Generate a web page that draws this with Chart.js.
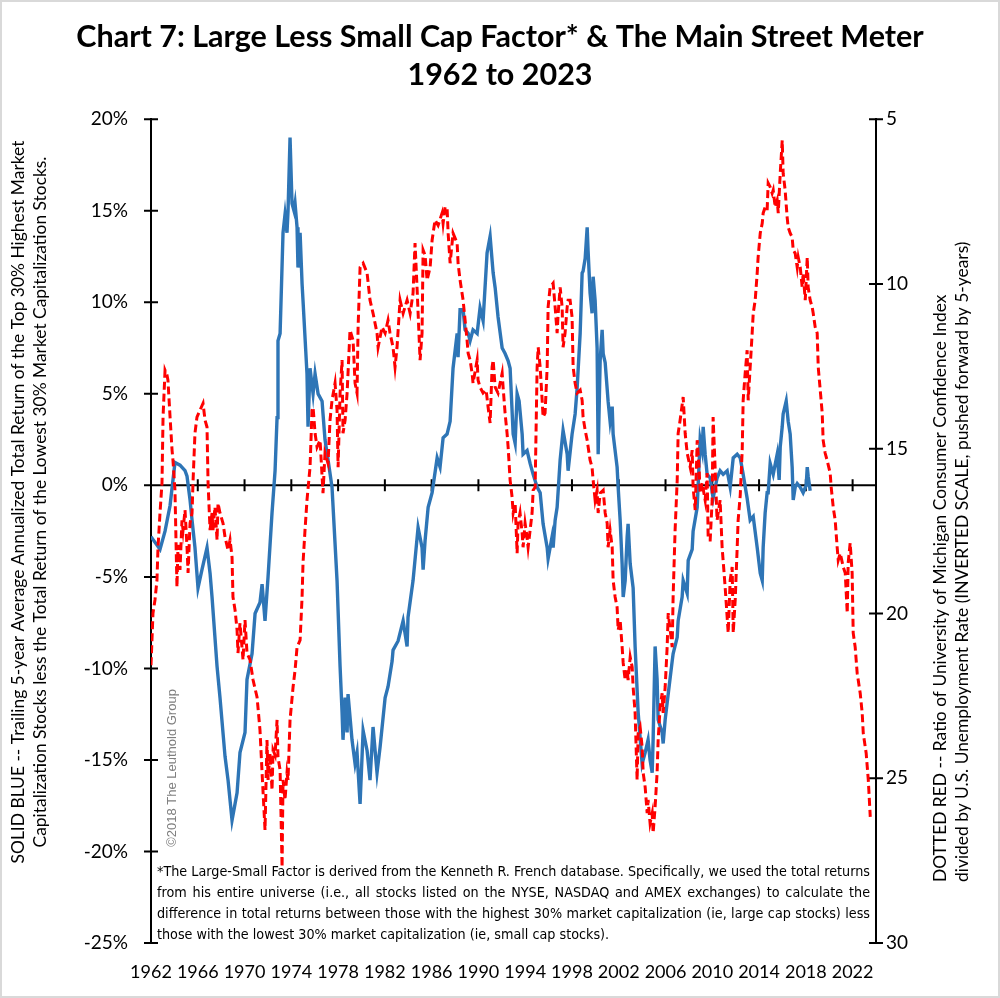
<!DOCTYPE html>
<html>
<head>
<meta charset="utf-8">
<title>Chart 7: Large Less Small Cap Factor & The Main Street Meter</title>
<script src="https://cdn.jsdelivr.net/npm/chart.js@4.4.1/dist/chart.umd.min.js"></script>
<style>
    html, body { margin: 0; padding: 0; background: #fff; }
    canvas { display: block; }
</style>
</head>
<body>
<canvas id="myChart" width="1000" height="998"></canvas>
<script>
// large less small cap factor, % (left axis)
let blueYears = [
    1962.00, 1962.77, 1963.20, 1963.63, 1964.05, 1964.48, 1964.91, 1965.08, 1965.34, 1965.51,
    1965.76, 1966.02, 1966.36, 1966.79, 1967.05, 1967.22, 1967.65, 1967.90, 1968.33, 1968.59,
    1968.93, 1969.36, 1969.61, 1970.04, 1970.21, 1970.64, 1970.90, 1971.32, 1971.50, 1971.75,
    1972.01, 1972.35, 1972.61, 1972.78, 1972.86, 1973.04, 1973.29, 1973.46, 1973.63, 1973.72,
    1973.89, 1974.06, 1974.23, 1974.32, 1974.49, 1974.57, 1974.75, 1974.92, 1975.00, 1975.34,
    1975.43, 1975.60, 1975.86, 1976.03, 1976.29, 1976.63, 1976.71, 1976.88, 1977.14, 1977.48,
    1977.91, 1978.17, 1978.34, 1978.42, 1978.60, 1978.77, 1978.85, 1979.19, 1979.45, 1979.62,
    1979.88, 1980.14, 1980.48, 1980.73, 1980.99, 1981.33, 1981.59, 1982.02, 1982.27, 1982.62,
    1982.70, 1983.13, 1983.56, 1983.90, 1983.98, 1984.41, 1984.84, 1985.18, 1985.27, 1985.44,
    1985.70, 1986.04, 1986.47, 1986.72, 1986.98, 1987.32, 1987.58, 1987.83, 1988.18, 1988.26,
    1988.43, 1988.69, 1988.86, 1989.12, 1989.29, 1989.54, 1989.89, 1990.14, 1990.40, 1990.74,
    1991.00, 1991.26, 1991.43, 1991.68, 1992.03, 1992.28, 1992.54, 1992.71, 1992.97, 1993.14,
    1993.31, 1993.48, 1993.74, 1993.82, 1994.16, 1994.42, 1994.68, 1995.02, 1995.28, 1995.53,
    1995.88, 1995.96, 1996.30, 1996.39, 1996.56, 1996.73, 1996.99, 1997.24, 1997.59, 1997.67,
    1998.01, 1998.27, 1998.44, 1998.70, 1998.87, 1998.95, 1999.13, 1999.30, 1999.38, 1999.55,
    1999.72, 1999.81, 1999.98, 2000.15, 2000.24, 2000.41, 2000.58, 2000.67, 2000.84, 2001.09,
    2001.26, 2001.44, 2001.52, 2001.86, 2001.95, 2002.12, 2002.29, 2002.38, 2002.55, 2002.72,
    2002.80, 2002.98, 2003.23, 2003.40, 2003.66, 2004.00, 2004.26, 2004.51, 2004.68, 2004.86,
    2004.94, 2005.11, 2005.28, 2005.37, 2005.71, 2005.80, 2005.97, 2006.23, 2006.57, 2006.65,
    2007.00, 2007.08, 2007.42, 2007.51, 2007.85, 2007.94, 2008.28, 2008.36, 2008.71, 2008.96,
    2009.13, 2009.22, 2009.39, 2009.56, 2009.82, 2010.07, 2010.41, 2010.67, 2010.93, 2011.27,
    2011.53, 2011.79, 2012.13, 2012.39, 2012.64, 2012.98, 2013.24, 2013.50, 2013.84, 2014.10,
    2014.27, 2014.35, 2014.52, 2014.69, 2014.78, 2014.95, 2015.21, 2015.55, 2015.72, 2015.81,
    2015.98, 2016.06, 2016.32, 2016.49, 2016.66, 2016.83, 2016.92, 2017.09, 2017.26, 2017.52,
    2017.77, 2018.03, 2018.12, 2018.20, 2018.37
]
let blueValues = [
    -2.8, -3.5, -2.5, -1.1, 1.25, 1.1, 0.8, 0.5, -0.8, -1.9,
    -3.4, -5.6, -4.6, -3.4, -4.8, -6.1, -9.9, -11.6, -14.8, -16.1,
    -18.3, -16.8, -14.6, -13.5, -10.6, -9.2, -7.0, -6.4, -5.4, -7.4,
    -5.0, -1.5, 0.8, 3.7, 7.9, 8.3, 13.8, 14.8, 13.8, 15.0,
    19.0, 15.4, 15.0, 15.4, 14.1, 11.9, 13.8, 11.0, 10.1, 6.1,
    3.2, 6.4, 5.0, 6.1, 5.0, 4.6, 3.9, 2.5, 1.4, -0.1,
    -5.2, -9.9, -12.4, -13.9, -11.6, -13.5, -11.4, -13.9, -15.2, -14.6,
    -17.4, -13.4, -14.5, -16.1, -13.2, -15.7, -14.3, -11.6, -11.0, -9.6,
    -9.0, -8.5, -7.4, -8.8, -7.2, -5.2, -2.3, -3.4, -4.6, -3.0,
    -1.2, -0.4, 1.5, 1.0, 2.6, 2.8, 3.5, 6.4, 8.3, 7.0,
    9.6, 9.6, 8.5, 8.3, 7.9, 8.5, 8.3, 9.7, 9.0, 12.7,
    13.6, 11.6, 10.8, 9.2, 7.5, 7.2, 6.8, 6.4, 2.8, 2.3,
    5.0, 4.6, 2.8, 1.7, 1.9, 1.2, 0.6, -0.1, -0.4, -2.1,
    -3.4, -4.0, -2.8, -3.4, -1.9, -1.2, 1.4, 3.0, 1.7, 0.8,
    2.8, 3.9, 5.3, 8.3, 11.6, 11.7, 12.4, 14.1, 12.8, 10.5,
    9.4, 11.4, 10.1, 7.5, 1.7, 6.8, 8.5, 7.2, 6.7, 4.6,
    3.5, 4.3, 2.8, 1.0, -0.1, -1.9, -4.3, -6.1, -5.2, -2.8,
    -2.1, -4.3, -5.6, -8.8, -12.4, -15.2, -14.6, -13.9, -15.0, -15.7,
    -13.9, -8.8, -10.6, -12.8, -13.5, -14.1, -12.8, -11.4, -9.6, -9.2,
    -8.3, -7.4, -6.1, -5.2, -5.9, -4.1, -3.5, -2.5, -1.2, 2.5,
    1.9, 3.2, 1.7, 0.6, 0.4, -0.7, 0.4, 0.8, 0.6, 0.8,
    -0.1, 1.5, 1.7, 1.5, 0.6, -0.7, -1.9, -1.7, -3.4, -4.8,
    -5.2, -3.4, -1.5, -0.4, -0.4, 1.2, 0.6, 1.7, 0.3, 2.1,
    3.2, 3.9, 4.6, 3.5, 2.8, 1.0, -0.8, -0.1, 0.1, -0.1,
    -0.4, 0.0, 1.0, 0.5, -0.3
]

// main street meter, pushed forward 5 years (right axis, inverted)
let redYears = [
    1962.00, 1962.17, 1962.34, 1962.51, 1962.60, 1962.77, 1962.94, 1963.03, 1963.20, 1963.37,
    1963.45, 1963.63, 1963.80, 1963.88, 1964.05, 1964.22, 1964.31, 1964.48, 1964.65, 1964.74,
    1964.91, 1965.08, 1965.17, 1965.34, 1965.51, 1965.59, 1965.76, 1965.93, 1966.19, 1966.45,
    1966.62, 1966.79, 1966.88, 1967.05, 1967.22, 1967.30, 1967.47, 1967.65, 1967.73, 1967.90,
    1968.16, 1968.33, 1968.59, 1968.76, 1968.93, 1969.01, 1969.19, 1969.36, 1969.44, 1969.61,
    1969.87, 1970.04, 1970.21, 1970.47, 1970.73, 1971.07, 1971.32, 1971.50, 1971.75, 1971.92,
    1972.01, 1972.18, 1972.35, 1972.44, 1972.61, 1972.78, 1972.86, 1973.04, 1973.21, 1973.29,
    1973.46, 1973.63, 1973.72, 1973.89, 1974.15, 1974.32, 1974.49, 1974.75, 1974.92, 1975.00,
    1975.17, 1975.34, 1975.60, 1975.77, 1975.86, 1976.03, 1976.20, 1976.46, 1976.71, 1976.88,
    1977.14, 1977.31, 1977.48, 1977.74, 1977.91, 1978.00, 1978.17, 1978.34, 1978.42, 1978.60,
    1978.77, 1979.02, 1979.28, 1979.45, 1979.62, 1979.71, 1979.88, 1980.14, 1980.48, 1980.73,
    1980.99, 1981.33, 1981.42, 1981.76, 1982.02, 1982.27, 1982.44, 1982.70, 1982.87, 1983.04,
    1983.30, 1983.56, 1983.90, 1984.16, 1984.41, 1984.58, 1984.75, 1985.01, 1985.18, 1985.27,
    1985.44, 1985.61, 1985.87, 1986.04, 1986.29, 1986.55, 1986.89, 1986.98, 1987.15, 1987.32,
    1987.41, 1987.58, 1987.75, 1987.83, 1988.18, 1988.26, 1988.43, 1988.69, 1989.03, 1989.12,
    1989.29, 1989.46, 1989.54, 1989.89, 1989.97, 1990.14, 1990.40, 1990.66, 1990.83, 1991.00,
    1991.17, 1991.26, 1991.43, 1991.68, 1992.03, 1992.11, 1992.28, 1992.45, 1992.54, 1992.71,
    1992.88, 1992.97, 1993.14, 1993.31, 1993.39, 1993.56, 1993.74, 1993.82, 1993.99, 1994.16,
    1994.25, 1994.42, 1994.59, 1994.68, 1994.85, 1995.02, 1995.11, 1995.28, 1995.45, 1995.53,
    1995.70, 1995.88, 1995.96, 1996.13, 1996.39, 1996.56, 1996.73, 1996.82, 1996.99, 1997.16,
    1997.24, 1997.41, 1997.59, 1997.67, 1997.84, 1998.01, 1998.10, 1998.27, 1998.44, 1998.70,
    1998.87, 1998.95, 1999.13, 1999.30, 1999.55, 1999.72, 1999.81, 1999.98, 2000.15, 2000.24,
    2000.41, 2000.67, 2000.84, 2001.01, 2001.09, 2001.26, 2001.44, 2001.52, 2001.69, 2001.86,
    2001.95, 2002.12, 2002.29, 2002.38, 2002.55, 2002.72, 2002.80, 2002.98, 2003.15, 2003.23,
    2003.40, 2003.57, 2003.66, 2003.83, 2004.00, 2004.09, 2004.26, 2004.43, 2004.51, 2004.68,
    2004.86, 2004.94, 2005.11, 2005.28, 2005.37, 2005.54, 2005.71, 2005.80, 2005.97, 2006.14,
    2006.23, 2006.40, 2006.57, 2006.65, 2006.82, 2007.00, 2007.08, 2007.25, 2007.51, 2007.68,
    2007.85, 2008.11, 2008.28, 2008.36, 2008.54, 2008.71, 2008.88, 2008.96, 2009.13, 2009.39,
    2009.56, 2009.65, 2009.82, 2009.99, 2010.07, 2010.24, 2010.41, 2010.67, 2010.84, 2011.10,
    2011.36, 2011.53, 2011.70, 2011.79, 2011.96, 2012.13, 2012.21, 2012.39, 2012.56, 2012.64,
    2012.81, 2012.98, 2013.07, 2013.24, 2013.41, 2013.50, 2013.67, 2013.84, 2013.92, 2014.10,
    2014.27, 2014.35, 2014.52, 2014.69, 2014.78, 2014.95, 2015.12, 2015.21, 2015.38, 2015.55,
    2015.64, 2015.81, 2015.98, 2016.06, 2016.23, 2016.40, 2016.49, 2016.66, 2016.83, 2016.92,
    2017.09, 2017.26, 2017.35, 2017.52, 2017.69, 2017.77, 2017.95, 2018.12, 2018.20, 2018.37,
    2018.54, 2018.63, 2018.80, 2018.97, 2019.06, 2019.23, 2019.40, 2019.48, 2019.65, 2019.82,
    2020.08, 2020.17, 2020.34, 2020.51, 2020.68, 2020.77, 2020.94, 2021.20, 2021.37, 2021.54,
    2021.62, 2021.79, 2021.96, 2022.05, 2022.22, 2022.39, 2022.48, 2022.65, 2022.82, 2022.91,
    2023.08, 2023.16, 2023.34, 2023.51
]
let redValues = [
    21.57, 19.99, 19.59, 18.99, 17.99, 16.95, 16.04, 14.04, 12.62, 12.77,
    12.92, 14.04, 15.04, 15.35, 16.26, 19.20, 17.92, 18.68, 17.17, 17.47,
    16.86, 17.99, 18.77, 17.26, 16.95, 16.04, 14.53, 14.04, 13.83, 13.62,
    14.13, 14.34, 16.04, 17.47, 16.95, 17.47, 16.77, 17.77, 16.65, 16.95,
    17.26, 17.68, 18.08, 17.77, 18.29, 19.50, 19.90, 20.50, 21.20, 20.29,
    21.41, 20.20, 21.20, 21.41, 22.02, 22.54, 23.54, 24.84, 26.57, 23.84,
    25.05, 24.24, 25.36, 24.14, 24.30, 23.23, 24.36, 24.75, 27.70, 25.05,
    25.66, 24.84, 25.05, 23.23, 22.23, 21.72, 21.02, 20.81, 19.50, 18.47,
    17.47, 16.56, 15.56, 13.83, 13.74, 14.53, 14.95, 14.74, 16.35, 15.13,
    15.44, 14.13, 13.53, 13.01, 13.83, 15.56, 13.31, 12.31, 14.53, 14.13,
    13.31, 11.40, 11.71, 13.01, 13.31, 11.31, 9.49, 9.37, 9.67, 10.49,
    10.89, 11.49, 11.92, 11.31, 11.49, 11.10, 11.49, 11.92, 12.52, 11.92,
    10.49, 10.89, 10.49, 10.89, 10.28, 8.76, 10.10, 12.31, 11.49, 8.97,
    9.13, 9.88, 9.49, 8.67, 8.06, 8.22, 7.85, 8.16, 7.67, 7.67,
    8.46, 9.37, 8.76, 8.46, 8.76, 9.37, 9.88, 10.49, 11.71, 12.10,
    12.31, 12.71, 13.01, 12.31, 12.92, 13.13, 13.31, 13.22, 13.74, 14.22,
    12.52, 12.31, 13.13, 13.31, 12.71, 13.13, 13.92, 14.53, 14.95, 15.95,
    16.47, 16.95, 16.65, 18.17, 17.26, 16.95, 17.56, 17.99, 17.26, 17.68,
    17.99, 17.47, 16.95, 16.26, 16.17, 12.52, 11.92, 12.52, 13.53, 14.04,
    13.92, 12.52, 10.70, 10.10, 9.98, 10.70, 11.49, 10.89, 10.10, 10.70,
    11.92, 11.49, 10.70, 10.49, 10.49, 11.01, 12.52, 13.01, 13.31, 13.22,
    13.53, 14.04, 14.44, 14.74, 15.35, 15.56, 15.95, 16.56, 16.26, 16.95,
    16.35, 16.26, 16.95, 17.26, 17.99, 17.47, 17.99, 18.99, 19.50, 19.81,
    20.50, 20.20, 21.02, 21.50, 22.02, 21.72, 22.02, 21.32, 21.63, 22.23,
    23.02, 25.05, 23.63, 23.45, 24.05, 24.84, 25.27, 26.06, 25.66, 26.36,
    26.06, 26.66, 25.87, 24.84, 23.84, 22.84, 22.42, 23.02, 22.23, 21.02,
    19.99, 20.50, 21.02, 19.50, 17.47, 15.95, 14.53, 14.13, 13.43, 14.53,
    15.13, 15.56, 15.04, 16.17, 16.86, 14.74, 15.65, 16.35, 16.04, 16.56,
    15.74, 17.77, 17.77, 16.56, 14.04, 15.56, 17.17, 16.56, 17.99, 19.20,
    20.59, 18.99, 18.59, 20.59, 19.59, 17.99, 17.17, 16.41, 15.04, 13.53,
    12.71, 12.01, 13.53, 12.52, 11.49, 10.89, 10.49, 9.67, 9.19, 8.46,
    8.16, 7.85, 7.67, 7.76, 6.94, 7.06, 7.25, 7.15, 7.67, 7.46,
    7.85, 6.64, 5.64, 6.64, 7.15, 7.97, 8.28, 8.46, 8.58, 8.97,
    9.07, 9.49, 9.19, 9.49, 10.10, 9.67, 10.49, 9.19, 10.10, 10.49,
    10.70, 10.89, 11.31, 11.49, 12.52, 13.22, 13.92, 14.74, 15.13, 15.35,
    15.74, 16.17, 16.77, 17.17, 17.99, 18.38, 18.17, 18.59, 18.77, 19.99,
    18.47, 17.86, 18.77, 20.59, 21.02, 21.81, 22.02, 22.42, 23.02, 23.63,
    24.05, 24.24, 25.05, 26.17
]

let xTickYears = [1962, 1966, 1970, 1974, 1978, 1982, 1986, 1990, 1994, 1998, 2002, 2006, 2010, 2014, 2018, 2022]

let titleLines = [
    'Chart 7: Large Less Small Cap Factor* & The Main Street Meter',
    '1962 to 2023'
]
let leftTitle = [
    'SOLID BLUE -- Trailing 5-year Average Annualized Total Return of the Top 30% Highest Market',
    'Capitalization Stocks less the Total Return of the Lowest 30% Market Capitalization Stocks.'
]
let rightTitle = [
    'DOTTED RED -- Ratio of University of Michigan Consumer Confidence Index',
    'divided by U.S. Unemployment Rate (INVERTED SCALE, pushed forward by 5-years)'
]
let footnote = [
    '*The Large-Small Factor is derived from the Kenneth R. French database. Specifically, we used the total returns',
    'from his entire universe (i.e., all stocks listed on the NYSE, NASDAQ and AMEX exchanges) to calculate the',
    'difference in total returns between those with the highest 30% market capitalization (ie, large cap stocks) less',
    'those with the lowest 30% market capitalization (ie, small cap stocks).'
]
let copyright = '\u00A92018 The Leuthold Group'

let blueColor = '#2E75B6'
let redColor = '#FF0000'

Chart.defaults.font.family = 'Lato, "DejaVu Sans", sans-serif'
Chart.defaults.color = '#000'

function justify(ctx, text, x, y, width) {
    let words = text.split(' ')
    let total = words.reduce((s, w) => s + ctx.measureText(w).width, 0)
    let gap = (width - total) / (words.length - 1)
    let cx = x
    words.forEach(w => {
        ctx.fillText(w, cx, y)
        cx += ctx.measureText(w).width + gap
    })
}

// axis lines through zero, cross ticks, rotated titles, footnote
let decor = {
    id: 'decor',
    beforeDatasetsDraw(chart) {
        let ctx = chart.ctx
        let area = chart.chartArea
        let x = chart.scales.x
        let y = chart.scales.y
        let y2 = chart.scales.y2
        let zero = y.getPixelForValue(0)
        ctx.save()
        ctx.strokeStyle = '#000'
        ctx.lineWidth = 2
        ctx.beginPath()
        ctx.moveTo(area.left, zero)
        ctx.lineTo(area.right, zero)
        x.ticks.forEach(t => {
            let px = x.getPixelForValue(t.value)
            ctx.moveTo(px, zero - 6)
            ctx.lineTo(px, zero + 6)
        })
        y.ticks.forEach(t => {
            let py = y.getPixelForValue(t.value)
            ctx.moveTo(area.left - 7, py)
            ctx.lineTo(area.left + 7, py)
        })
        y2.ticks.forEach(t => {
            let py = y2.getPixelForValue(t.value)
            ctx.moveTo(area.right - 7, py)
            ctx.lineTo(area.right + 7, py)
        })
        ctx.stroke()
        ctx.restore()
    },
    afterDraw(chart) {
        let ctx = chart.ctx
        let area = chart.chartArea
        ctx.save()
        ctx.fillStyle = '#000'
        ctx.textBaseline = 'middle'

        // left axis title, centred
        ctx.font = '17.4px Lato'
        ctx.textAlign = 'center'
        leftTitle.forEach((line, i) => {
            ctx.save()
            ctx.translate(18 + i * 22, 502)
            ctx.rotate(-Math.PI / 2)
            ctx.fillText(line, 0, 0)
            ctx.restore()
        })

        // right axis title, starts at the bottom
        ctx.textAlign = 'left'
        rightTitle.forEach((line, i) => {
            ctx.save()
            ctx.translate(940 + i * 22, 882)
            ctx.rotate(-Math.PI / 2)
            ctx.fillText(line, 0, 0)
            ctx.restore()
        })

        // copyright
        ctx.save()
        ctx.fillStyle = '#7f7f7f'
        ctx.font = '13px "Liberation Sans", Arial, sans-serif'
        ctx.textAlign = 'center'
        ctx.translate(area.left + 21, 768)
        ctx.rotate(-Math.PI / 2)
        ctx.fillText(copyright, 0, 0)
        ctx.restore()

        // footnote, justified
        let left = area.left + 6
        let width = area.right - 6 - left
        let size = 15
        let family = '"Liberation Sans Narrow", "DejaVu Sans Condensed", sans-serif'
        ctx.font = size + 'px ' + family
        let widest = Math.max(...footnote.map(l => ctx.measureText(l).width))
        if (widest > width) {
            size = size * width / widest
            ctx.font = size + 'px ' + family
        }
        ctx.textAlign = 'left'
        footnote.forEach((line, i) => {
            let py = 872 + i * 21
            if (i < footnote.length - 1)
                justify(ctx, line, left, py, width)
            else
                ctx.fillText(line, left, py)
        })

        // light frame round the picture
        ctx.strokeStyle = '#d9d9d9'
        ctx.lineWidth = 2
        ctx.strokeRect(1, 1, chart.width - 2, chart.height - 2)
        ctx.restore()
    }
}

let ctx = document.getElementById('myChart')
let myChart = new Chart(ctx, {
    type: 'line',
    data: {
        datasets: [
            {
                label: 'Main Street Meter',
                data: redYears.map((x, i) => ({ x, y: redValues[i] })),
                yAxisID: 'y2',
                borderColor: redColor,
                borderWidth: 3,
                borderDash: [8, 4],
                pointRadius: 0,
                tension: 0,
                fill: false
            },
            {
                label: 'Large Less Small Cap Factor',
                data: blueYears.map((x, i) => ({ x, y: blueValues[i] })),
                yAxisID: 'y',
                borderColor: blueColor,
                borderWidth: 3.4,
                pointRadius: 0,
                tension: 0,
                fill: false
            }
        ]
    },
    options: {
        responsive: false,
        animation: false,
        devicePixelRatio: 1,
        layout: {
            padding: 0
        },
        plugins: {
            legend: { display: false },
            tooltip: { enabled: false },
            title: {
                display: true,
                text: titleLines,
                color: '#000',
                font: { family: 'Lato', size: 30.5, weight: 'bold', lineHeight: 1.25 },
                padding: { top: 18, bottom: 25 }
            }
        },
        scales: {
            x: {
                type: 'linear',
                min: 1962,
                max: 2024,
                grid: { display: false, drawTicks: false },
                border: { display: false },
                afterBuildTicks: scale => {
                    scale.ticks = xTickYears.map(value => ({ value }))
                },
                afterFit: scale => { scale.height = 55 },
                ticks: {
                    autoSkip: false,
                    maxRotation: 0,
                    padding: 18,
                    font: { size: 18 },
                    callback: v => String(v)
                }
            },
            y: {
                position: 'left',
                min: -25,
                max: 20,
                grid: { display: false, drawTicks: false },
                border: { display: true, color: '#000', width: 2 },
                afterFit: scale => { scale.width = 151 },
                ticks: {
                    stepSize: 5,
                    padding: 23,
                    font: { size: 19 },
                    callback: v => v + '%'
                }
            },
            y2: {
                position: 'right',
                reverse: true,
                min: 5,
                max: 30,
                grid: { display: false, drawTicks: false },
                border: { display: true, color: '#000', width: 2 },
                afterFit: scale => { scale.width = 124 },
                ticks: {
                    stepSize: 5,
                    padding: 10,
                    font: { size: 19 }
                }
            }
        }
    },
    plugins: [decor]
})
</script>
</body>
</html>
